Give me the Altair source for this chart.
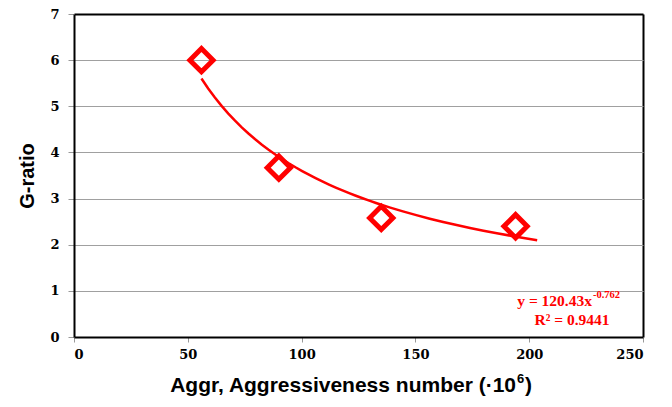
import altair as alt
import pandas as pd

# Data
aggr = [56, 90, 135, 194]
g_ratio = [6.0, 3.67, 2.58, 2.40]
x_ticks = [0, 50, 100, 150, 200, 250]
y_ticks = [0, 1, 2, 3, 4, 5, 6, 7]
fit_extent = [56, 203.5]
eq_main = "y = 120.43x"
eq_exp = "-0.762"
eq_r2 = "R² = 0.9441"
x_title_main = "Aggr, Aggressiveness number (·10"
x_title_sup = "6"
x_title_end = ")"
y_title = "G-ratio"

df = pd.DataFrame({"x": aggr, "y": g_ratio})

RED = "#ff0000"
SERIF = "DejaVu Serif"
EQ_FONT = "Liberation Serif"
SANS = "Liberation Sans"

xscale = alt.Scale(domain=[0, 250], nice=False)
yscale = alt.Scale(domain=[0, 7], nice=False)

xaxis = alt.Axis(values=x_ticks, title=None,
                 grid=True,
                 gridColor="black",
                 gridWidth=2,
                 gridOpacity={"condition": {"test": "datum.value === 250", "value": 1},
                              "value": 0},
                 domainColor="black", domainWidth=2,
                 tickColor="#999999", tickSize=5, labelPadding=6,
                 labelFont=SERIF, labelFontSize=13, labelFontWeight="bold",
                 labelColor="black")
yaxis = alt.Axis(values=y_ticks, title=y_title, grid=True,
                 gridColor={"condition": {"test": "datum.value === 7", "value": "black"},
                            "value": "#a0a0a0"},
                 gridWidth={"condition": {"test": "datum.value === 7", "value": 2},
                            "value": 1.2},
                 domainColor="black", domainWidth=2,
                 tickColor="#999999", tickSize=6, labelPadding=9,
                 labelFont=SERIF, labelFontSize=13, labelFontWeight="bold",
                 labelColor="black", titleFont=SANS, titleFontSize=20,
                 titleFontWeight="bold", titleColor="black", titlePadding=12)

base = alt.Chart(df)

fit = base.transform_regression("x", "y", method="pow", extent=fit_extent).mark_line(
    color=RED, strokeWidth=2.5
).encode(x=alt.X("x:Q", scale=xscale, axis=xaxis), y=alt.Y("y:Q", scale=yscale, axis=yaxis))

pts = base.mark_point(shape="diamond", size=540, filled=False, color=RED,
                      strokeWidth=5, opacity=1).encode(
    x=alt.X("x:Q", scale=xscale), y=alt.Y("y:Q", scale=yscale))

txt_df = pd.DataFrame({"a": [0]})


def label(text, x, y, size, font, align, color):
    return alt.Chart(txt_df).mark_text(text=text, align=align, baseline="alphabetic",
                                       font=font, fontSize=size, fontWeight="bold",
                                       color=color).encode(x=alt.value(x), y=alt.value(y))


t1 = label(eq_main, 518, 292, 15.5, EQ_FONT, "right", RED)
t2 = label(eq_exp, 519, 284, 10.5, EQ_FONT, "left", RED)
t3 = label(eq_r2, 498, 311, 15.5, EQ_FONT, "center", RED)
xt1 = label(x_title_main, 442, 378, 21, SANS, "right", "black")
xt2 = label(x_title_sup, 443, 369, 13, SANS, "left", "black")
xt3 = label(x_title_end, 451, 378, 21, SANS, "left", "black")

chart = alt.layer(fit, pts, t1, t2, t3, xt1, xt2, xt3).properties(
    width=569, height=323,
    autosize=alt.AutoSizeParams(type="none"),
    padding={"left": 66, "top": 6, "right": 20, "bottom": 62},
).configure_view(stroke="black", strokeWidth=2).configure(background="white")

chart.save("out.html", embed_options={"renderer": "svg", "actions": False})
